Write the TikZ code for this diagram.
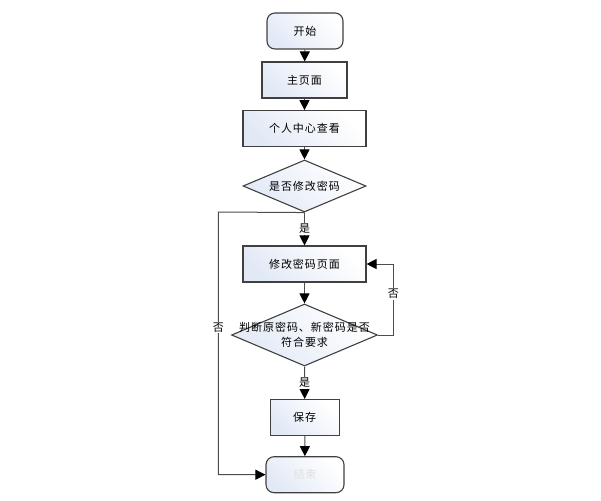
\documentclass[tikz,border=0pt]{standalone}
\usepackage{fontspec}
\newfontfamily\cjk[LetterSpace=9]{Noto Sans CJK SC}
\usetikzlibrary{arrows.meta,shapes.geometric}
\definecolor{boxblue}{RGB}{226,233,246}
\begin{document}
\begin{tikzpicture}[x=1pt,y=-1pt,
  every node/.style={font=\cjk\fontsize{11}{15}\selectfont},
  boxfill/.style={draw=black!75,line width=1.1pt,left color=boxblue,right color=white,shading angle=135},
  procbox/.style={boxfill,rectangle,minimum height=36pt,inner sep=0pt},
  termbox/.style={boxfill,rectangle,rounded corners=8pt,minimum height=36pt,inner sep=0pt},
  decbox/.style={boxfill,diamond,inner sep=0pt},
  conn/.style={draw=black!70,line width=1pt,-{Triangle[width=10pt,length=10pt,color=black]}},
  lbl/.style={font=\cjk\fontsize{11}{13}\selectfont,fill=white,inner sep=1pt}
]
\useasboundingbox (0,0) rectangle (601,500);
\node[termbox,minimum width=76pt] (start) at (305,31) {开始};
\node[procbox,minimum width=85pt] (home) at (304.5,80) {主页面};
\node[procbox,minimum width=123pt] (center) at (304.5,128.7) {个人中心查看};
\node[decbox,minimum width=123pt,minimum height=52pt] (q1) at (304.5,186) {};
\node at (q1) {是否修改密码};
\node[procbox,minimum width=123pt] (pwd) at (304.5,264) {修改密码页面};
\node[decbox,minimum width=146pt,minimum height=62pt] (q2) at (304.5,335) {};
\node[align=center] at (q2) {判断原密码、新密码是否\\符合要求};
\node[procbox,minimum width=69pt] (save) at (304.7,417.5) {保存};
\node[termbox,minimum width=78pt,text=black!12] (end) at (305,474.7) {结束};
\coordinate (lc1) at (218.3,212);
\coordinate (lc2) at (218.3,474.7);
\coordinate (rc1) at (393.3,335);
\coordinate (rc2) at (393.3,264);
\draw[conn] (start) -- (home);
\draw[conn] (home) -- (center);
\draw[conn] (center) -- (q1);
\draw[conn] (q1) -- node[lbl,pos=0.5] {是} (pwd);
\draw[conn] (pwd) -- (q2);
\draw[conn] (q2) -- node[lbl,pos=0.5] {是} (save);
\draw[conn] (save) -- (end);
\draw[conn] (q1.south) -- (lc1) -- node[lbl,pos=0.44] {否} (lc2) -- (end.west);
\draw[conn] (q2.east) -- (rc1) -- node[lbl,pos=0.58] {否} (rc2) -- (pwd.east);
\end{tikzpicture}
\end{document}
